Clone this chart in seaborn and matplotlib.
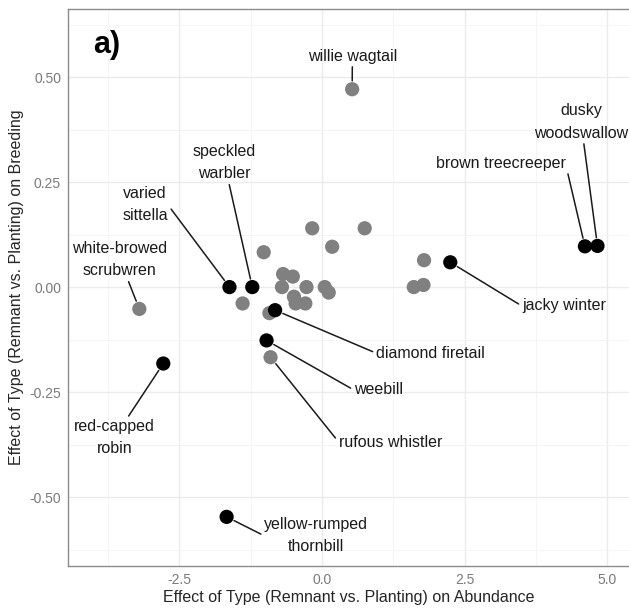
import matplotlib
matplotlib.use("Agg")
import matplotlib.pyplot as plt
from matplotlib.ticker import MultipleLocator, FormatStrFormatter
import pandas as pd
import seaborn as sns

# species effects: abundance (x) and breeding (y)
species = [
    "willie wagtail", "", "", "", "", "", "", "", "", "", "",
    "", "", "", "", "", "rufous whistler", "white-browed scrubwren",
    "", "", "",
    "varied sittella", "speckled warbler", "diamond firetail", "weebill",
    "red-capped robin", "yellow-rumped thornbill", "jacky winter",
    "brown treecreeper", "dusky woodswallow",
]
abundance = [
    0.53, -0.17, 0.75, 0.18, -1.02, -0.68, -0.51, -0.70, -0.27, 0.05, 0.12,
    -0.49, -0.46, -0.29, -1.39, -0.92, -0.90, -3.20,
    1.79, 1.78, 1.61,
    -1.62, -1.22, -0.82, -0.97,
    -2.78, -1.67, 2.25,
    4.61, 4.83,
]
breeding = [
    0.471, 0.140, 0.140, 0.096, 0.083, 0.031, 0.025, 0.0, 0.0, 0.0, -0.013,
    -0.023, -0.039, -0.039, -0.039, -0.062, -0.167, -0.052,
    0.064, 0.005, 0.0,
    0.0, 0.0, -0.055, -0.127,
    -0.182, -0.547, 0.059,
    0.097, 0.098,
]
group = ["other"] * 21 + ["focal"] * 9

# label text, position of the label (data units), anchor of the leader line
labels = {
    "willie wagtail": ("willie wagtail", 0.535, 0.55, (0.5, 0.5)),
    "dusky woodswallow": ("dusky\nwoodswallow", 4.54, 0.393, (0.5, 0.5)),
    "brown treecreeper": ("brown treecreeper", 3.13, 0.295, (1.0, 0.5)),
    "speckled warbler": ("speckled\nwarbler", -1.71, 0.296, (0.5, 0.5)),
    "varied sittella": ("varied\nsittella", -3.10, 0.196, (1.0, 0.5)),
    "white-browed scrubwren": ("white-browed\nscrubwren", -3.54, 0.065, (0.5, 0.5)),
    "jacky winter": ("jacky winter", 4.24, -0.045, (0.0, 0.5)),
    "diamond firetail": ("diamond firetail", 1.90, -0.157, (0.0, 0.5)),
    "weebill": ("weebill", 0.99, -0.245, (0.0, 0.5)),
    "rufous whistler": ("rufous whistler", 1.20, -0.369, (0.0, 0.5)),
    "red-capped robin": ("red-capped\nrobin", -3.64, -0.359, (0.5, 0.5)),
    "yellow-rumped thornbill": ("yellow-rumped\nthornbill", -0.10, -0.592, (0.0, 0.5)),
}

df = pd.DataFrame({"species": species, "abundance": abundance,
                   "breeding": breeding, "group": group})

sns.set_style("white")
plt.rcParams["font.family"] = ["Liberation Sans", "DejaVu Sans"]

fig = plt.figure(figsize=(6.29, 6.10), dpi=100)
ax = fig.add_axes([68 / 629, 44 / 610, 562 / 629, 557 / 610])

sns.scatterplot(data=df, x="abundance", y="breeding", hue="group",
                palette={"other": "#808080", "focal": "black"},
                s=105, linewidth=0, legend=False, ax=ax, zorder=3)

for _, row in df.iterrows():
    if row["species"] not in labels:
        continue
    text, tx, ty, rel = labels[row["species"]]
    ax.annotate(text, xy=(row["abundance"], row["breeding"]), xytext=(tx, ty),
                ha="center", va="center", fontsize=11.5, color="#1a1a1a",
                linespacing=1.6, zorder=4,
                arrowprops=dict(arrowstyle="-", color="#1a1a1a", lw=1.1,
                                shrinkA=0, shrinkB=6, relpos=rel))

ax.set_xlim(-4.45, 5.4)
ax.set_ylim(-0.664, 0.662)
ax.xaxis.set_major_locator(MultipleLocator(2.5))
ax.xaxis.set_minor_locator(MultipleLocator(1.25))
ax.yaxis.set_major_locator(MultipleLocator(0.25))
ax.yaxis.set_minor_locator(MultipleLocator(0.125))
ax.xaxis.set_major_formatter(FormatStrFormatter("%.1f"))
ax.yaxis.set_major_formatter(FormatStrFormatter("%.2f"))
ax.grid(which="major", color="#ebebeb", lw=1.0)
ax.grid(which="minor", color="#f4f4f4", lw=0.6)
ax.set_axisbelow(True)

for side in ax.spines.values():
    side.set_color("#8c8c8c")
    side.set_linewidth(1.0)

ax.tick_params(which="major", length=3, width=0.8, color="#8c8c8c",
               labelsize=10, labelcolor="#7a7a7a", pad=2)
ax.tick_params(which="minor", length=0)

ax.set_xlabel("Effect of Type (Remnant vs. Planting) on Abundance",
              fontsize=11.5, color="#262626", labelpad=2)
ax.set_ylabel("Effect of Type (Remnant vs. Planting) on Breeding",
              fontsize=11.5, color="#262626", labelpad=4)

ax.text(0.044, 0.935, "a)", transform=ax.transAxes, fontsize=22,
        fontweight="bold", ha="left", va="center", color="black")

fig.savefig("out.png", dpi=100)
plt.close(fig)
